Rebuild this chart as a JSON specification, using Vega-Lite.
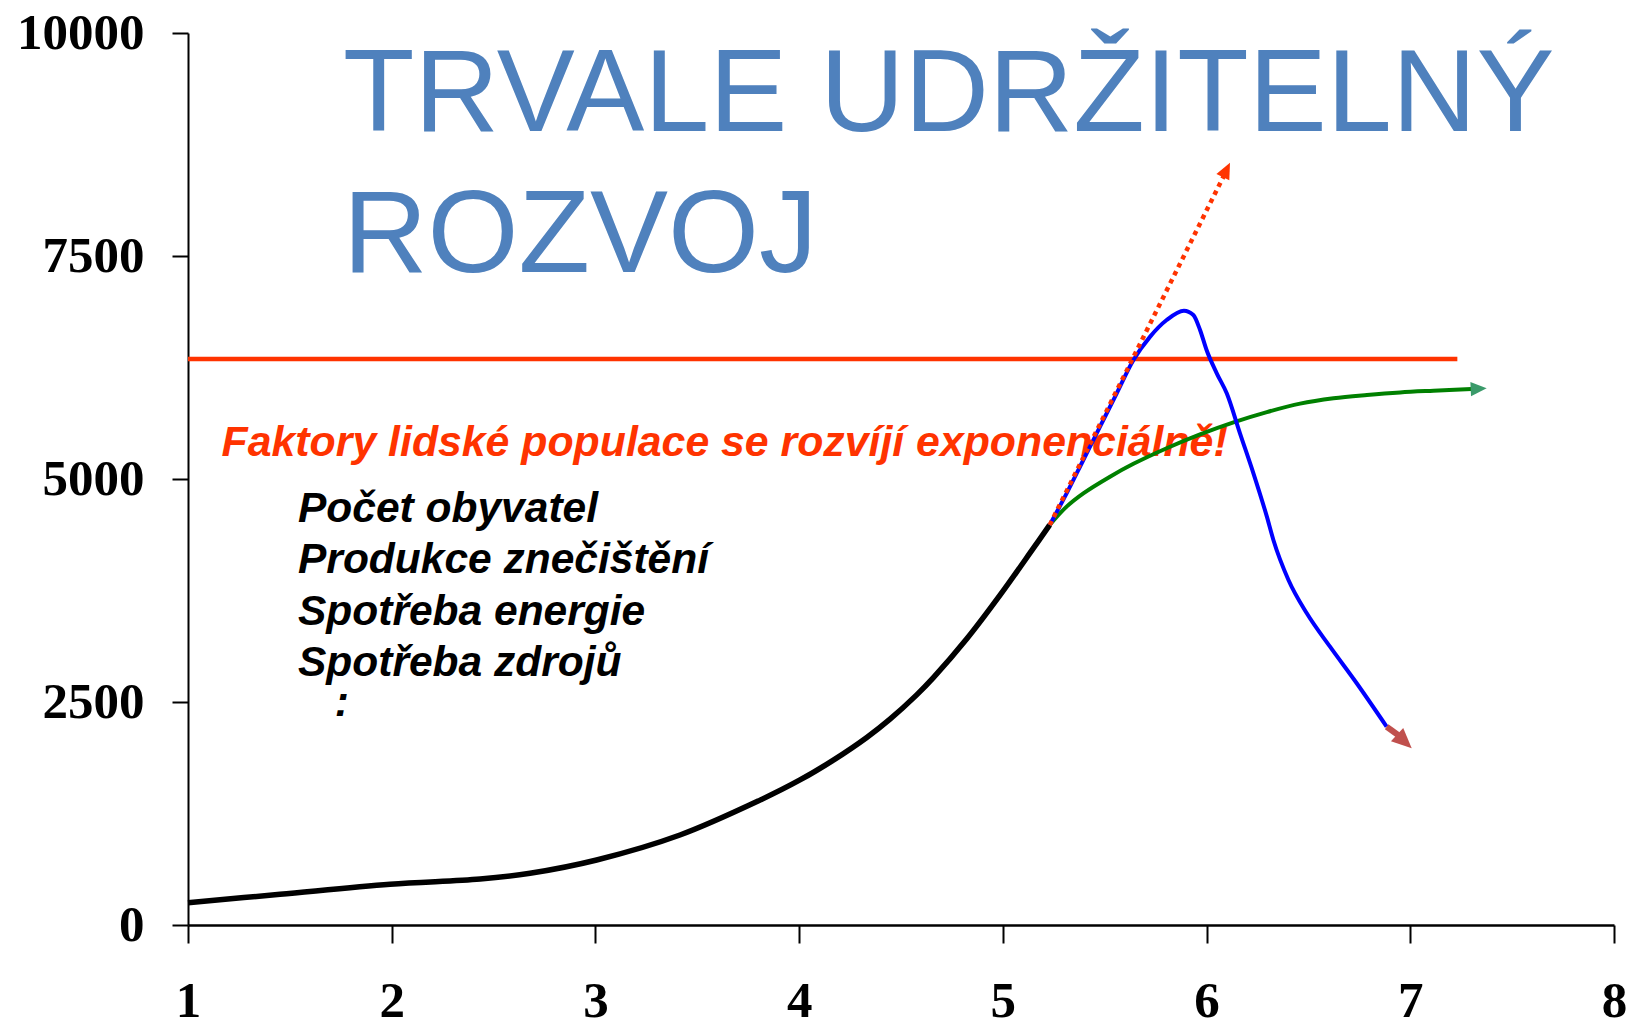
{
  "$schema": "https://vega.github.io/schema/vega-lite/v6.json",
  "width": 1426,
  "height": 892,
  "autosize": {"type": "none"},
  "padding": {"left": 188, "top": 33, "right": 14, "bottom": 95},
  "background": "white",
  "config": {"view": {"stroke": null}},
  "datasets": {
    "title": [
      {"label": "TRVALE UDRŽITELNÝ", "x": 1.761, "y": 8901},
      {"label": "ROZVOJ", "x": 1.761, "y": 7317}
    ],
    "headline": [
      {"label": "Faktory lidské populace se rozvíjí exponenciálně!", "x": 1.165, "y": 5258}
    ],
    "list": [
      {"label": "Počet obyvatel", "x": 1.54, "y": 4514},
      {"label": "Produkce znečištění", "x": 1.54, "y": 3943},
      {"label": "Spotřeba energie", "x": 1.54, "y": 3363},
      {"label": "Spotřeba zdrojů", "x": 1.54, "y": 2792},
      {"label": ":", "x": 1.72, "y": 2346}
    ],
    "limit": [
      {"x": 1, "y": 6345},
      {"x": 7.231, "y": 6345}
    ],
    "black": [
      {"x": 1.0, "y": 250}, {"x": 1.452, "y": 344}, {"x": 1.992, "y": 456},
      {"x": 2.434, "y": 515}, {"x": 2.679, "y": 580}, {"x": 3.006, "y": 729},
      {"x": 3.415, "y": 1009}, {"x": 3.808, "y": 1400}, {"x": 4.004, "y": 1626},
      {"x": 4.168, "y": 1849}, {"x": 4.332, "y": 2103}, {"x": 4.446, "y": 2308},
      {"x": 4.577, "y": 2580}, {"x": 4.659, "y": 2773}, {"x": 4.823, "y": 3208},
      {"x": 4.986, "y": 3697}, {"x": 5.15, "y": 4225}, {"x": 5.23, "y": 4485}
    ],
    "green": [
      {"x": 5.23, "y": 4485}, {"x": 5.313, "y": 4690}, {"x": 5.395, "y": 4839},
      {"x": 5.526, "y": 5026}, {"x": 5.641, "y": 5170}, {"x": 5.804, "y": 5345},
      {"x": 5.968, "y": 5500}, {"x": 6.132, "y": 5635}, {"x": 6.296, "y": 5750},
      {"x": 6.459, "y": 5845}, {"x": 6.623, "y": 5905}, {"x": 6.787, "y": 5942},
      {"x": 6.95, "y": 5971}, {"x": 7.114, "y": 5990}, {"x": 7.30, "y": 6009}
    ],
    "blue": [
      {"x": 5.23, "y": 4485}, {"x": 5.313, "y": 4839}, {"x": 5.395, "y": 5213},
      {"x": 5.477, "y": 5587}, {"x": 5.559, "y": 5961}, {"x": 5.641, "y": 6334},
      {"x": 5.723, "y": 6596}, {"x": 5.804, "y": 6782}, {"x": 5.889, "y": 6887},
      {"x": 5.935, "y": 6839}, {"x": 5.968, "y": 6671}, {"x": 6.0, "y": 6446},
      {"x": 6.05, "y": 6185}, {"x": 6.099, "y": 5961}, {"x": 6.164, "y": 5512},
      {"x": 6.23, "y": 5064}, {"x": 6.296, "y": 4578}, {"x": 6.328, "y": 4316},
      {"x": 6.402, "y": 3868}, {"x": 6.492, "y": 3494}, {"x": 6.606, "y": 3120},
      {"x": 6.737, "y": 2710}, {"x": 6.884, "y": 2223}
    ],
    "brown": [
      {"x": 6.884, "y": 2223}, {"x": 6.94, "y": 2130}
    ],
    "dotted": [
      {"x": 5.23, "y": 4485}, {"x": 6.085, "y": 8400}
    ],
    "headRed": [{"x": 6.115, "y": 8545}],
    "headGreen": [{"x": 7.375, "y": 6016}],
    "headBrown": [{"x": 7.007, "y": 1981}]
  },
  "encoding": {
    "x": {
      "field": "x", "type": "quantitative",
      "scale": {"domain": [1, 8], "nice": false, "zero": false},
      "axis": {
        "title": null, "grid": false, "values": [1, 2, 3, 4, 5, 6, 7, 8], "format": "d",
        "labelFont": "Liberation Serif", "labelFontWeight": "bold", "labelFontSize": 51,
        "labelColor": "black", "labelBaseline": "alphabetic", "labelPadding": 73,
        "tickSize": 18, "tickWidth": 2, "tickColor": "black",
        "domainColor": "black", "domainWidth": 2.5, "labelFlush": false, "labelOverlap": false
      }
    },
    "y": {
      "field": "y", "type": "quantitative",
      "scale": {"domain": [0, 10000], "nice": false},
      "axis": {
        "title": null, "grid": false, "values": [0, 2500, 5000, 7500, 10000], "format": "d",
        "labelFont": "Liberation Serif", "labelFontWeight": "bold", "labelFontSize": 51,
        "labelColor": "black", "labelPadding": 28,
        "tickSize": 16, "tickWidth": 2, "tickColor": "black",
        "domainColor": "black", "domainWidth": 2, "labelFlush": false, "labelOverlap": false
      }
    }
  },
  "layer": [
    {
      "data": {"name": "title"},
      "mark": {"type": "text", "align": "left", "baseline": "alphabetic", "font": "Liberation Sans", "fontSize": 117, "color": "#4f81bd"},
      "encoding": {"text": {"field": "label"}}
    },
    {
      "data": {"name": "headline"},
      "mark": {"type": "text", "align": "left", "baseline": "alphabetic", "font": "Liberation Sans", "fontSize": 42.8, "fontStyle": "italic", "fontWeight": "bold", "color": "#ff3300"},
      "encoding": {"text": {"field": "label"}}
    },
    {
      "data": {"name": "list"},
      "mark": {"type": "text", "align": "left", "baseline": "alphabetic", "font": "Liberation Sans", "fontSize": 42.5, "fontStyle": "italic", "fontWeight": "bold", "color": "black"},
      "encoding": {"text": {"field": "label"}}
    },
    {
      "data": {"name": "limit"},
      "mark": {"type": "line", "color": "#ff3300", "strokeWidth": 4.5, "strokeCap": "butt"},
      "encoding": {}
    },
    {
      "data": {"name": "black"},
      "mark": {"type": "line", "color": "black", "strokeWidth": 5.5, "interpolate": "catmull-rom"},
      "encoding": {}
    },
    {
      "data": {"name": "green"},
      "mark": {"type": "line", "color": "#008000", "strokeWidth": 4, "interpolate": "catmull-rom"},
      "encoding": {}
    },
    {
      "data": {"name": "blue"},
      "mark": {"type": "line", "color": "#0000ff", "strokeWidth": 4, "interpolate": "monotone"},
      "encoding": {}
    },
    {
      "data": {"name": "brown"},
      "mark": {"type": "line", "color": "#c0504d", "strokeWidth": 6, "strokeCap": "butt"},
      "encoding": {}
    },
    {
      "data": {"name": "dotted"},
      "mark": {"type": "line", "color": "#ff3300", "strokeWidth": 4.5, "strokeDash": [4.5, 4.5], "strokeCap": "butt"},
      "encoding": {}
    },
    {
      "data": {"name": "headRed"},
      "mark": {"type": "point", "shape": "M0,0L0.9,2L-0.9,2Z", "filled": true, "color": "#ff3300", "opacity": 1, "size": 256, "angle": 26.5, "strokeWidth": 0}
    },
    {
      "data": {"name": "headGreen"},
      "mark": {"type": "point", "shape": "M0,0L0.9,2L-0.9,2Z", "filled": true, "color": "#3a9a6a", "opacity": 1, "size": 256, "angle": 87.4, "strokeWidth": 0}
    },
    {
      "data": {"name": "headBrown"},
      "mark": {"type": "point", "shape": "M0,0L0.9,2L-0.9,2Z", "filled": true, "color": "#c0504d", "opacity": 1, "size": 400, "angle": 133, "strokeWidth": 0}
    }
  ]
}
